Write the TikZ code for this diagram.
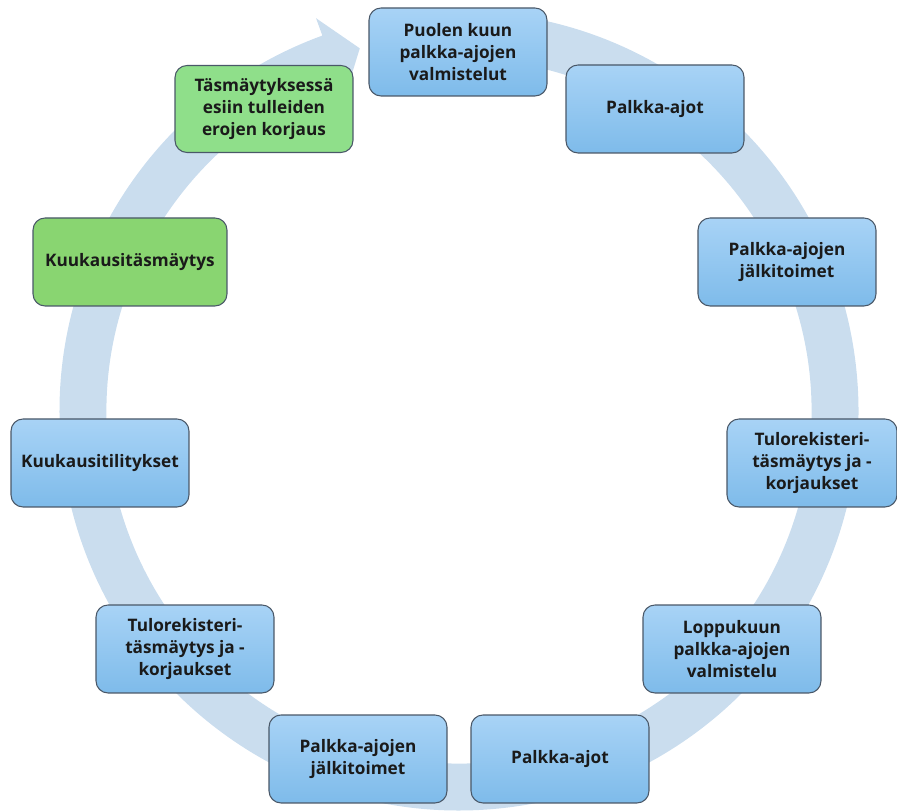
\documentclass[tikz,border=0pt]{standalone}
\usepackage{fontspec}
\setmainfont{Open Sans}
\usepackage{tikz}
\usetikzlibrary{calc}

\definecolor{ringblue}{HTML}{CADDEE}
\definecolor{blueT}{HTML}{A8D3F6}
\definecolor{blueB}{HTML}{7EBBEA}
\definecolor{greenA}{HTML}{8FDF8A}
\definecolor{greenB}{HTML}{89D571}
\definecolor{boxline}{HTML}{4A5868}
\definecolor{boxtext}{HTML}{1A1A1A}

\begin{document}
\begin{tikzpicture}[x=0.02cm,y=0.02cm,
		box/.style={draw=boxline, line width=0.6pt, rounded corners=0.24cm,
			minimum width=3.56cm, minimum height=1.76cm, align=center, inner sep=2pt,
			text=boxtext, font=\bfseries\fontsize{9.8}{12.3}\selectfont},
		bluebox/.style={box, top color=blueT, bottom color=blueB},
		greenbox/.style={box, fill=#1}]
		\useasboundingbox (0,0) rectangle (897,811);
		% ring with arrow head
		\coordinate (C) at (459, 400);
		\begin{scope}[shift={(C)}]
			\fill[ringblue] (95:399.5) arc[start angle=95, end angle=-250, radius=399.5]
				-- (-250:418) -- (-254.7:376) -- (-250:334) -- (-250:352.5)
				arc[start angle=-250, end angle=95, radius=352.5] -- cycle;
		\end{scope}
		% steps
		\node[bluebox] (prep1) at (458, 759) {Puolen kuun\\palkka-ajojen\\valmistelut};
		\node[bluebox] (run1) at (655, 702) {Palkka-ajot};
		\node[bluebox] (post1) at (787, 549) {Palkka-ajojen\\jälkitoimet};
		\node[bluebox, minimum width=3.4cm] (tr1) at (812, 348) {Tulorekisteri-\\täsmäytys ja -\\korjaukset};
		\node[bluebox] (prep2) at (732, 162) {Loppukuun\\palkka-ajojen\\valmistelu};
		\node[bluebox] (run2) at (560, 52) {Palkka-ajot};
		\node[bluebox] (post2) at (358, 52) {Palkka-ajojen\\jälkitoimet};
		\node[bluebox] (tr2) at (185, 162) {Tulorekisteri-\\täsmäytys ja -\\korjaukset};
		\node[bluebox] (acc) at (100, 348) {Kuukausitilitykset};
		\node[greenbox=greenB, minimum width=3.88cm] (rec) at (130, 549) {Kuukausitäsmäytys};
		\node[greenbox=greenA, minimum height=1.74cm] (fix) at (264, 702) {Täsmäytyksessä\\esiin tulleiden\\erojen korjaus};
	\end{tikzpicture}
\end{document}
